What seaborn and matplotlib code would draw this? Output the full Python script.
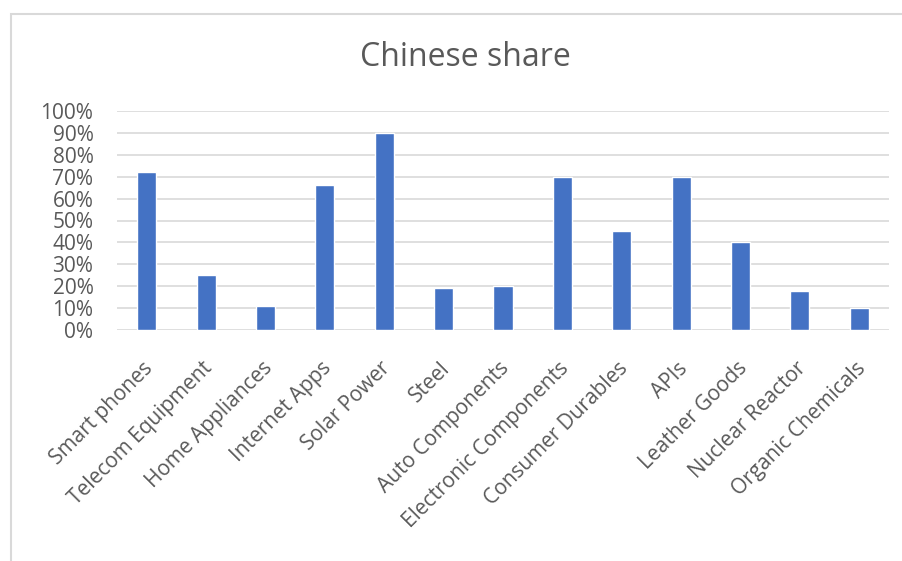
import matplotlib
matplotlib.use("Agg")
import matplotlib.pyplot as plt
import matplotlib.transforms as mtransforms
import seaborn as sns
import pandas as pd
from matplotlib.ticker import PercentFormatter
from matplotlib.patches import Rectangle

categories = ["Smart phones", "Telecom Equipment", "Home Appliances", "Internet Apps",
              "Solar Power", "Steel", "Auto Components", "Electronic Components",
              "Consumer Durables", "APIs", "Leather Goods", "Nuclear Reactor",
              "Organic Chemicals"]
share = [0.72, 0.25, 0.11, 0.66, 0.90, 0.19, 0.20, 0.70, 0.45, 0.70, 0.40, 0.18, 0.10]
y_ticks = [0, 0.1, 0.2, 0.3, 0.4, 0.5, 0.6, 0.7, 0.8, 0.9, 1.0]

df = pd.DataFrame({"category": categories, "share": share})

sns.set_theme(style="white")
plt.rcParams["font.family"] = ["Open Sans", "DejaVu Sans"]

fig = plt.figure(figsize=(9.03, 5.61), dpi=100)
ax = fig.add_axes([117/903, 231/561, (889-117)/903, (450-231)/561])

sns.barplot(data=df, x="category", y="share", color="#4472C4", width=0.32,
            saturation=1, ax=ax, zorder=3)

ax.set_ylim(0, 1)
ax.set_yticks(y_ticks)
ax.yaxis.set_major_formatter(PercentFormatter(1.0, decimals=0))
ax.grid(axis="y", color="#D9D9D9", linewidth=1.2, zorder=0)
ax.set_axisbelow(True)
for s in ax.spines.values():
    s.set_visible(False)
ax.set_xlabel("")
ax.set_ylabel("")
ax.tick_params(axis="y", length=0, labelsize=15, labelcolor="#595959", pad=17)
ax.tick_params(axis="x", length=0, labelsize=15, labelcolor="#595959", pad=20)
shift = mtransforms.ScaledTranslation(-4/100, 0, fig.dpi_scale_trans)
for lbl in ax.get_xticklabels():
    lbl.set_rotation(45)
    lbl.set_ha("right")
    lbl.set_rotation_mode("anchor")
    lbl.set_transform(lbl.get_transform() + shift)
for lbl in ax.get_yticklabels():
    lbl.set_ha("right")

fig.text(465/903, 1 - 58/561, "Chinese share", ha="center", va="center",
         fontsize=23, color="#595959")

fig.add_artist(Rectangle((11/903, -0.1), 1.2, 1 - 14/561 + 0.1,
                         transform=fig.transFigure, fill=False,
                         edgecolor="#D9D9D9", linewidth=1.5))

fig.savefig("out.png", dpi=100)
